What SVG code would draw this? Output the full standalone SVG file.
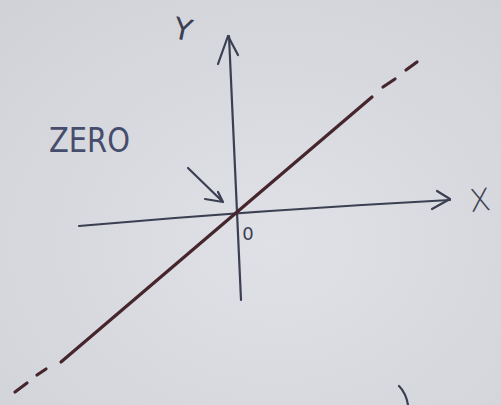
<svg xmlns="http://www.w3.org/2000/svg" width="501" height="405" viewBox="0 0 501 405">
<defs>
<radialGradient id="paper" cx="0.55" cy="0.6" r="0.8">
<stop offset="0" stop-color="#dfe1e6"/>
<stop offset="1" stop-color="#d0d2d8"/>
</radialGradient>
<style>
.ink{fill:none;stroke:#3b3f52;stroke-width:2.2;stroke-linecap:round;stroke-linejoin:round}
.plot{fill:none;stroke:#45262c;stroke-width:3.2;stroke-linecap:round}
.lbl{font-family:"DejaVu Sans","Liberation Sans",sans-serif;fill:#3b3f52}
.blue{fill:#454c6c}
</style>
</defs>
<rect width="501" height="405" fill="url(#paper)"/>
<g id="connectors">
<path id="y-axis" class="ink" d="M229,36 Q235,170 241,300"/>
<path id="y-head" class="ink" d="M218,64 L228,36 L238,55"/>
<path id="x-axis" class="ink" d="M79,226 Q260,210 450,200"/>
<path id="x-head" class="ink" d="M437,191 L450,199 L432,209"/>
<path id="zero-arrow" class="ink" d="M188,168 L223,202 M205,199 L223,202 L218,192"/>
</g>
<g id="plot-line">
<path class="plot" d="M61,362 L372,97"/>
<path class="plot" d="M383,87 L395,79 M406,70 L417,62 M37,375 L46,369 M15,392 L27,383"/>
</g>
<g id="label-y">
<text class="lbl" x="183" y="40" font-size="30" text-anchor="middle" transform="rotate(12 183 29)">Y</text>
</g>
<g id="label-x">
<text class="lbl" x="480" y="211" font-size="31" font-weight="300" text-anchor="middle" transform="rotate(-6 480 200)">X</text>
</g>
<g id="label-zero">
<text class="lbl blue" x="49" y="152" font-size="33" textLength="81" lengthAdjust="spacingAndGlyphs">ZERO</text>
</g>
<g id="origin">
<text class="lbl" x="248" y="240" font-size="18" text-anchor="middle">0</text>
</g>
<path class="ink" d="M399,386 Q406,393 408,405"/>
</svg>
